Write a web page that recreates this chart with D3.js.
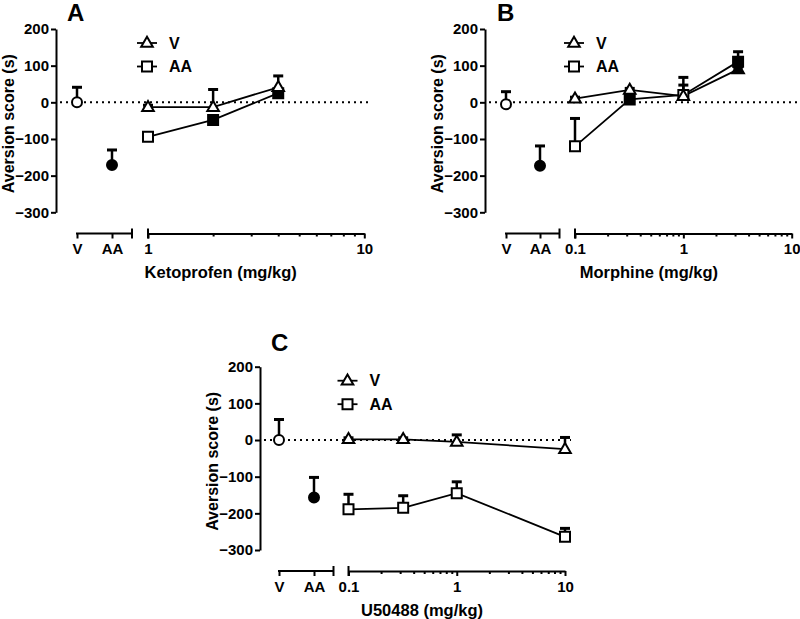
<!DOCTYPE html>
<html>
<head>
<meta charset="utf-8">
<script src="https://cdn.jsdelivr.net/npm/d3@7"></script>
<style>
  html, body { margin: 0; padding: 0; background: #fff; }
  svg { display: block; }
  text { font-family: "Liberation Sans", Arial, sans-serif; font-weight: bold; fill: #000; }
</style>
</head>
<body>
<svg id="chart" width="800" height="619"></svg>
<script>
// ---------------- DATA ----------------
const panelLetters = ["A", "B", "C"];
const drugLabels = ["Ketoprofen (mg/kg)", "Morphine (mg/kg)", "U50488 (mg/kg)"];
const controlCategories = ["V", "AA"];
const yTicks = [-300, -200, -100, 0, 100, 200];
const legendLabels = ["V", "AA"];

// controls: [V, AA] means and upward SEM
const ketoCtrlMean = [0, -171];
const ketoCtrlErr = [41, 41];
const morphCtrlMean = [-5, -173];
const morphCtrlErr = [34, 54];
const u50CtrlMean = [0, -157];
const u50CtrlErr = [56, 55];

// Ketoprofen
const ketoDoses = [1, 2, 4];
const ketoTicks = [1, 10];
const ketoV = [-13, -13, 41];
const ketoVErr = [5, 48, 31];
const ketoVFilled = [false, false, false];
const ketoAA = [-94, -48, 25];
const ketoAAErr = [5, 6, 6];
const ketoAAFilled = [false, true, true];

// Morphine
const morphDoses = [0.1, 0.32, 1, 3.2];
const morphTicks = [0.1, 1, 10];
const morphV = [10, 34, 17, 90];
const morphVErr = [4, 4, 51, 6];
const morphVFilled = [false, false, false, true];
const morphAA = [-120, 8, 20, 111];
const morphAAErr = [76, 4, 27, 27];
const morphAAFilled = [false, true, false, true];

// U50488
const u50Doses = [0.1, 0.32, 1, 10];
const u50Ticks = [0.1, 1, 10];
const u50V = [2, 2, -5, -25];
const u50VErr = [4, 4, 19, 32];
const u50VFilled = [false, false, false, false];
const u50AA = [-189, -185, -145, -264];
const u50AAErr = [41, 33, 31, 23];
const u50AAFilled = [false, false, false, false];

// ---------------- LAYOUT ----------------
const panels = [
  { letter: panelLetters[0], xlabel: drugLabels[0],
    ctrlMean: ketoCtrlMean, ctrlErr: ketoCtrlErr,
    doses: ketoDoses, ticks: ketoTicks,
    V: ketoV, VErr: ketoVErr, VFill: ketoVFilled,
    AA: ketoAA, AAErr: ketoAAErr, AAFill: ketoAAFilled,
    axisX: 56, top: 29, bottom: 212.3, xAxisY: 233.5,
    catX: [77, 112], leftEnd: 132, rightStart: 148, rightEnd: 364.3,
    letterX: 67, letterY: 20.5 },
  { letter: panelLetters[1], xlabel: drugLabels[1],
    ctrlMean: morphCtrlMean, ctrlErr: morphCtrlErr,
    doses: morphDoses, ticks: morphTicks,
    V: morphV, VErr: morphVErr, VFill: morphVFilled,
    AA: morphAA, AAErr: morphAAErr, AAFill: morphAAFilled,
    axisX: 485, top: 29, bottom: 212.3, xAxisY: 233.5,
    catX: [506, 540], leftEnd: 559.5, rightStart: 575, rightEnd: 791.7,
    letterX: 497, letterY: 20.5 },
  { letter: panelLetters[2], xlabel: drugLabels[2],
    ctrlMean: u50CtrlMean, ctrlErr: u50CtrlErr,
    doses: u50Doses, ticks: u50Ticks,
    V: u50V, VErr: u50VErr, VFill: u50VFilled,
    AA: u50AA, AAErr: u50AAErr, AAFill: u50AAFilled,
    axisX: 260, top: 366.7, bottom: 550, xAxisY: 571,
    catX: [279, 314], leftEnd: 333.5, rightStart: 348.5, rightEnd: 565,
    letterX: 271, letterY: 350.5 }
];

const svg = d3.select("#chart");

const triPath = "M0,-6.2 L5.8,3.8 L-5.8,3.8 Z";
const sqPath = "M-5,-5 H5 V5 H-5 Z";

function marker(g, type, x, y, filled) {
  const fill = filled ? "#000" : "#fff";
  if (type === "tri") {
    g.append("path").attr("d", triPath).attr("transform", `translate(${x},${y})`)
      .attr("fill", fill).attr("stroke", "#000").attr("stroke-width", 2).attr("stroke-linejoin", "miter");
  } else if (type === "sq") {
    g.append("path").attr("d", sqPath).attr("transform", `translate(${x},${y})`)
      .attr("fill", fill).attr("stroke", "#000").attr("stroke-width", 2);
  } else {
    g.append("circle").attr("cx", x).attr("cy", y).attr("r", 5)
      .attr("fill", fill).attr("stroke", "#000").attr("stroke-width", 2);
  }
}

function errBar(g, x, y0, y1) {
  g.append("line").attr("x1", x).attr("x2", x).attr("y1", y0).attr("y2", y1)
    .attr("stroke", "#000").attr("stroke-width", 2.5);
  g.append("line").attr("x1", x - 5).attr("x2", x + 5).attr("y1", y1).attr("y2", y1)
    .attr("stroke", "#000").attr("stroke-width", 3);
}

panels.forEach(p => {
  const g = svg.append("g");
  const y = d3.scaleLinear().domain([-300, 200]).range([p.bottom, p.top]);
  const xc = d3.scalePoint().domain(controlCategories).range(p.catX);
  const xl = d3.scaleLog().domain([p.ticks[0], p.ticks[p.ticks.length - 1]]).range([p.rightStart, p.rightEnd]);

  // panel letter
  g.append("text").attr("x", p.letterX).attr("y", p.letterY)
    .style("font-size", "24px").text(p.letter);

  // y axis
  const ya = g.append("g").attr("transform", `translate(${p.axisX},0)`)
    .call(d3.axisLeft(y).tickValues(yTicks).tickSize(5).tickSizeOuter(0).tickPadding(2));
  ya.select(".domain").attr("stroke-width", 2);
  ya.selectAll(".tick line").attr("stroke-width", 2);
  ya.selectAll(".tick text").style("font-size", "15px")
    .style("font-family", "'Liberation Sans', Arial, sans-serif").style("font-weight", "bold");

  // y label
  g.append("text")
    .attr("transform", `translate(${p.axisX - 42},${(p.top + p.bottom) / 2 + 3}) rotate(-90)`)
    .attr("text-anchor", "middle").style("font-size", "16px").text("Aversion score (s)");

  // dotted zero line
  g.append("line").attr("x1", p.axisX + 4).attr("x2", p.rightEnd + 6)
    .attr("y1", y(0)).attr("y2", y(0))
    .attr("stroke", "#000").attr("stroke-width", 2).attr("stroke-dasharray", "2,4");

  // left (control) x axis
  const xa1 = g.append("g").attr("transform", `translate(0,${p.xAxisY})`)
    .call(d3.axisBottom(xc).tickSize(5).tickSizeOuter(0).tickPadding(5));
  xa1.select(".domain").remove();
  xa1.selectAll(".tick line").attr("stroke-width", 2);
  xa1.selectAll(".tick text").style("font-size", "15px")
    .style("font-family", "'Liberation Sans', Arial, sans-serif").style("font-weight", "bold");
  g.append("line").attr("x1", p.catX[0] - 1).attr("x2", p.leftEnd).attr("y1", p.xAxisY).attr("y2", p.xAxisY)
    .attr("stroke", "#000").attr("stroke-width", 2);
  g.append("line").attr("x1", p.leftEnd).attr("x2", p.leftEnd).attr("y1", p.xAxisY - 5).attr("y2", p.xAxisY + 5)
    .attr("stroke", "#000").attr("stroke-width", 2);

  // right (dose) log axis
  const minors = [];
  for (let d = p.ticks[0]; d < p.ticks[p.ticks.length - 1] * 0.99; d *= 10) {
    for (let k = 2; k <= 9; k++) minors.push(d * k);
  }
  const xa2m = g.append("g").attr("transform", `translate(0,${p.xAxisY})`)
    .call(d3.axisBottom(xl).tickValues(minors).tickSize(3).tickFormat(""));
  xa2m.select(".domain").remove();
  xa2m.selectAll(".tick line").attr("stroke-width", 2);
  const xa2 = g.append("g").attr("transform", `translate(0,${p.xAxisY})`)
    .call(d3.axisBottom(xl).tickValues(p.ticks).tickSize(5).tickSizeOuter(0).tickPadding(5)
      .tickFormat(d => String(d)));
  xa2.select(".domain").attr("stroke-width", 2);
  xa2.selectAll(".tick line").attr("stroke-width", 2);
  xa2.selectAll(".tick text").style("font-size", "15px")
    .style("font-family", "'Liberation Sans', Arial, sans-serif").style("font-weight", "bold");
  g.append("line").attr("x1", p.rightStart).attr("x2", p.rightStart).attr("y1", p.xAxisY - 5).attr("y2", p.xAxisY + 5)
    .attr("stroke", "#000").attr("stroke-width", 2);

  // x label
  g.append("text").attr("x", (p.catX[0] + p.rightEnd) / 2).attr("y", p.xAxisY + 44.5)
    .attr("text-anchor", "middle").style("font-size", "16.5px").text(p.xlabel);

  // lines
  const lineV = d3.line().x((d, i) => xl(p.doses[i])).y(d => y(d));
  g.append("path").attr("d", lineV(p.V)).attr("fill", "none").attr("stroke", "#000").attr("stroke-width", 1.8);
  g.append("path").attr("d", lineV(p.AA)).attr("fill", "none").attr("stroke", "#000").attr("stroke-width", 1.8);

  // error bars
  p.V.forEach((v, i) => errBar(g, xl(p.doses[i]), y(v), y(v + p.VErr[i])));
  p.AA.forEach((v, i) => errBar(g, xl(p.doses[i]), y(v), y(v + p.AAErr[i])));
  p.ctrlMean.forEach((v, i) => errBar(g, xc(controlCategories[i]), y(v), y(v + p.ctrlErr[i])));

  // markers
  p.AA.forEach((v, i) => marker(g, "sq", xl(p.doses[i]), y(v), p.AAFill[i]));
  p.V.forEach((v, i) => marker(g, "tri", xl(p.doses[i]), y(v), p.VFill[i]));
  marker(g, "circ", xc(controlCategories[0]), y(p.ctrlMean[0]), false);
  marker(g, "circ", xc(controlCategories[1]), y(p.ctrlMean[1]), true);

  // legend
  const lx = p.rightStart - 1;
  const ly = [p.top + 14, p.top + 37.5];
  ["tri", "sq"].forEach((t, i) => {
    g.append("line").attr("x1", lx - 10).attr("x2", lx + 10).attr("y1", ly[i]).attr("y2", ly[i])
      .attr("stroke", "#000").attr("stroke-width", 1.8);
    marker(g, t, lx, ly[i], false);
    g.append("text").attr("x", lx + 22).attr("y", ly[i] + 5.5).style("font-size", "16px").text(legendLabels[i]);
  });
});
</script>
</body>
</html>
